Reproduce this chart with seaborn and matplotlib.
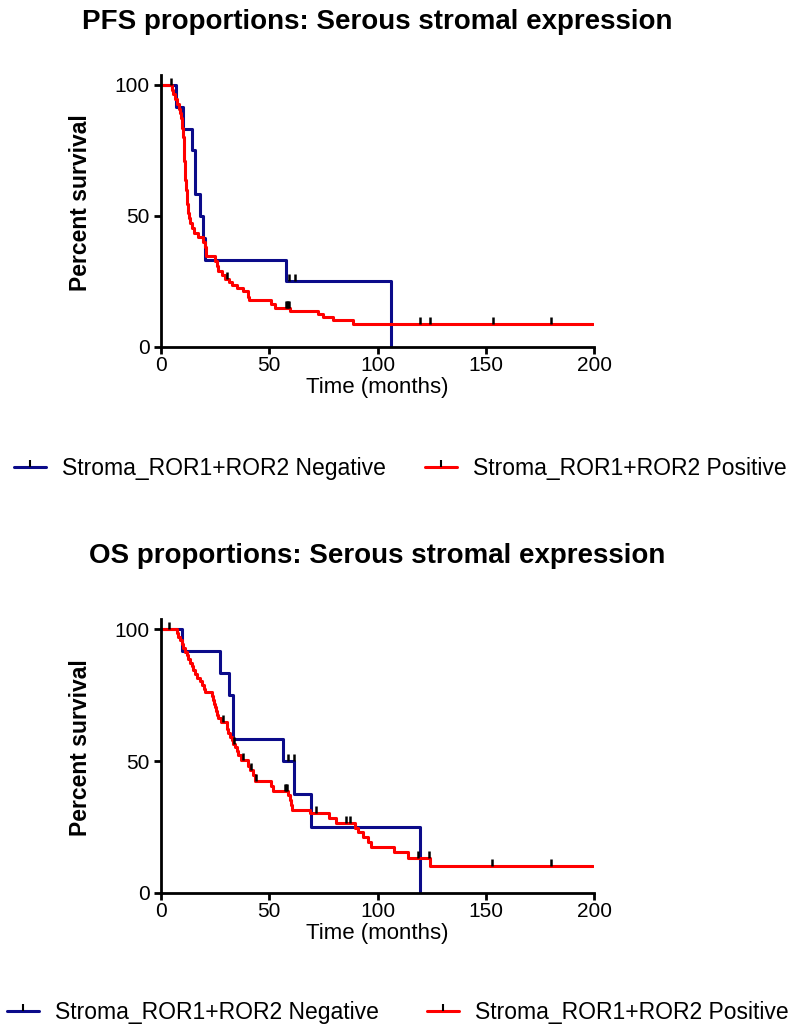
import numpy as np
import pandas as pd
import seaborn as sns
import matplotlib.pyplot as plt
from matplotlib.lines import Line2D

# Group labels and colours
groups = ['Stroma_ROR1+ROR2 Negative', 'Stroma_ROR1+ROR2 Positive']
colors = {'Stroma_ROR1+ROR2 Negative': '#0b0b8a', 'Stroma_ROR1+ROR2 Positive': '#ff0000'}

# PFS curves: step times (months) and percent survival after each step
pfs_neg_t = [0, 6.9, 10.3, 14.1, 15.7, 18.0, 19.2, 20.3, 57.6, 106.4]
pfs_neg_s = [100, 91.7, 83.3, 75.0, 58.3, 50.0, 41.7, 33.3, 25.0, 0]
pfs_neg_cens = [4.5, 59.1, 61.8]

pfs_pos_t = [0, 4.9, 5.6, 6.3, 7.4, 8.3, 8.8, 9.2, 9.5, 9.8, 10.0, 10.2, 10.4, 10.5,
             10.6, 10.7, 10.8, 10.9, 11.0, 11.1, 11.3, 11.5, 11.6, 11.8, 11.9, 12.1,
             12.3, 12.6, 12.9, 13.4, 14.1, 15.3, 17.2, 19.5, 20.2, 20.6, 21.0, 24.9,
             25.7, 26.4, 28.0, 29.5, 31.5, 32.6, 34.9, 38.0, 40.0, 40.3, 40.7, 51.0,
             52.5, 59.4, 72.5, 75.0, 79.4, 88.6, 199.5]
pfs_pos_s = [100, 98.2, 96.4, 94.5, 92.7, 90.9, 89.1, 87.3, 85.5, 83.6, 81.8, 80.0, 78.2, 76.4,
             74.5, 72.7, 70.9, 69.1, 67.3, 65.5, 63.6, 61.8, 60.0, 58.2, 56.4, 54.5,
             52.7, 50.9, 49.1, 47.3, 45.5, 43.6, 41.8, 40.0, 38.2, 36.4, 34.5, 32.7,
             30.9, 29.1, 27.3, 26.0, 24.8, 23.6, 22.5, 21.3, 20.1, 19.0, 17.9, 16.3,
             14.8, 13.8, 12.6, 11.5, 10.3, 8.6, 8.6]
pfs_pos_cens = [30.3, 57.6, 58.1, 58.6, 59.0, 119.7, 124.3, 153.5, 180.3]

# OS curves
os_neg_t = [0, 9.8, 27.2, 31.4, 33.4, 56.4, 61.5, 69.5, 119.4]
os_neg_s = [100, 91.7, 83.3, 75.0, 58.3, 50.0, 37.5, 25.0, 0]
os_neg_cens = [3.7, 58.7, 61.3]

os_pos_t = [0, 7.2, 8.0, 8.8, 9.5, 10.3, 11.1, 11.9, 12.6, 13.4, 14.2, 15.0, 15.7, 16.8,
            18.0, 19.0, 19.7, 20.3, 23.4, 24.0, 24.5, 24.9, 25.5, 26.0, 26.4, 27.5,
            30.3, 31.0, 31.8, 32.6, 33.1, 34.3, 35.0, 35.6, 36.8, 40.0, 41.0, 42.5,
            43.3, 51.0, 51.8, 58.5, 59.4, 60.2, 60.6, 68.7, 77.5, 81.0, 89.4, 90.9,
            93.2, 95.5, 97.1, 107.8, 114.0, 124.3, 199.5]
os_pos_s = [100, 98.6, 97.2, 95.8, 94.4, 93.0, 91.5, 90.1, 88.7, 87.3, 85.9, 84.5, 83.1, 81.7,
            80.3, 78.9, 77.5, 76.1, 74.6, 73.2, 71.8, 70.4, 69.0, 67.6, 66.2, 64.8,
            62.0, 60.6, 59.3, 57.9, 56.6, 55.2, 53.8, 52.4, 50.5, 48.2, 46.6, 44.7,
            42.6, 40.5, 38.6, 37.0, 35.3, 33.4, 31.5, 30.2, 28.3, 26.4, 24.5, 23.0,
            21.3, 19.4, 17.5, 15.3, 13.3, 10.1, 10.1]
os_pos_cens = [28.7, 33.5, 38.0, 41.5, 43.8, 57.3, 57.7, 58.1, 71.4, 85.3, 87.1,
               118.9, 123.6, 152.9, 180.0]

titles = ['PFS proportions: Serous stromal expression', 'OS proportions: Serous stromal expression']
x_ticks = [0, 50, 100, 150, 200]
y_ticks = [0, 50, 100]

sns.set_theme(style='ticks')
plt.rcParams['font.family'] = ['Liberation Sans', 'DejaVu Sans']
plt.rcParams['text.color'] = 'black'
plt.rcParams['axes.labelcolor'] = 'black'
plt.rcParams['xtick.color'] = 'black'
plt.rcParams['ytick.color'] = 'black'


def level_at(times, surv, t):
    i = np.searchsorted(times, t, side='right') - 1
    return surv[i]


def km_panel(ax, curves):
    rows = []
    for g, (t, s, c) in zip(groups, curves):
        rows.append(pd.DataFrame({'time': t, 'surv': s, 'group': g}))
    df = pd.concat(rows, ignore_index=True)
    sns.lineplot(data=df, x='time', y='surv', hue='group', palette=colors,
                 drawstyle='steps-post', estimator=None, sort=False,
                 linewidth=2.2, legend=False, ax=ax)
    for g, (t, s, c) in zip(groups, curves):
        ys = [level_at(t, s, ct) for ct in c]
        ax.plot(c, ys, linestyle='none', marker=2, markersize=5,
                markeredgewidth=1.8, color='black', zorder=5)
    ax.set_xlim(0, 200)
    ax.set_ylim(0, 104)
    ax.set_xticks(x_ticks)
    ax.set_yticks(y_ticks)
    ax.tick_params(labelsize=15, width=2, length=5, pad=3, colors='black')
    ax.tick_params(axis='x', pad=2)
    for sp in ['top', 'right']:
        ax.spines[sp].set_visible(False)
    for sp in ['left', 'bottom']:
        ax.spines[sp].set_linewidth(2)
        ax.spines[sp].set_color('black')
    ax.set_xlabel('Time (months)', fontsize=16, labelpad=1)
    ax.set_ylabel('Percent survival', fontsize=16.5, fontweight='bold')
    ax.yaxis.set_label_coords(-0.16, 0.53)
    ax.grid(False)


W, H = 792, 1030
fig = plt.figure(figsize=(W / 100, H / 100), dpi=100)
ax1 = fig.add_axes([161 / W, (H - 346.7) / H, 433 / W, 272.2 / H])
ax2 = fig.add_axes([161 / W, (H - 892.7) / H, 433 / W, 273.9 / H])

km_panel(ax1, [(pfs_neg_t, pfs_neg_s, pfs_neg_cens), (pfs_pos_t, pfs_pos_s, pfs_pos_cens)])
km_panel(ax2, [(os_neg_t, os_neg_s, os_neg_cens), (os_pos_t, os_pos_s, os_pos_cens)])

fig.text(377.5 / W, 1 - 22 / H, titles[0], ha='center', va='center', fontsize=20, fontweight='bold')
fig.text(377.5 / W, 1 - 556 / H, titles[1], ha='center', va='center', fontsize=20, fontweight='bold')

handles = [Line2D([0], [0], color=colors[g], lw=2.2, marker=2, markersize=5,
                  markeredgewidth=1.5, markeredgecolor='black') for g in groups]
fig.legend(handles, groups, loc='center', bbox_to_anchor=(400 / W, 1 - 469 / H), ncol=2,
           frameon=False, fontsize=16.5, numpoints=1, handlelength=1.4, handletextpad=0.7,
           columnspacing=1.7)
fig.legend(handles, groups, loc='center', bbox_to_anchor=(398 / W, 1 - 1013 / H), ncol=2,
           frameon=False, fontsize=16.5, numpoints=1, handlelength=1.4, handletextpad=0.7,
           columnspacing=2.1)

fig.savefig('out.png', dpi=100)
